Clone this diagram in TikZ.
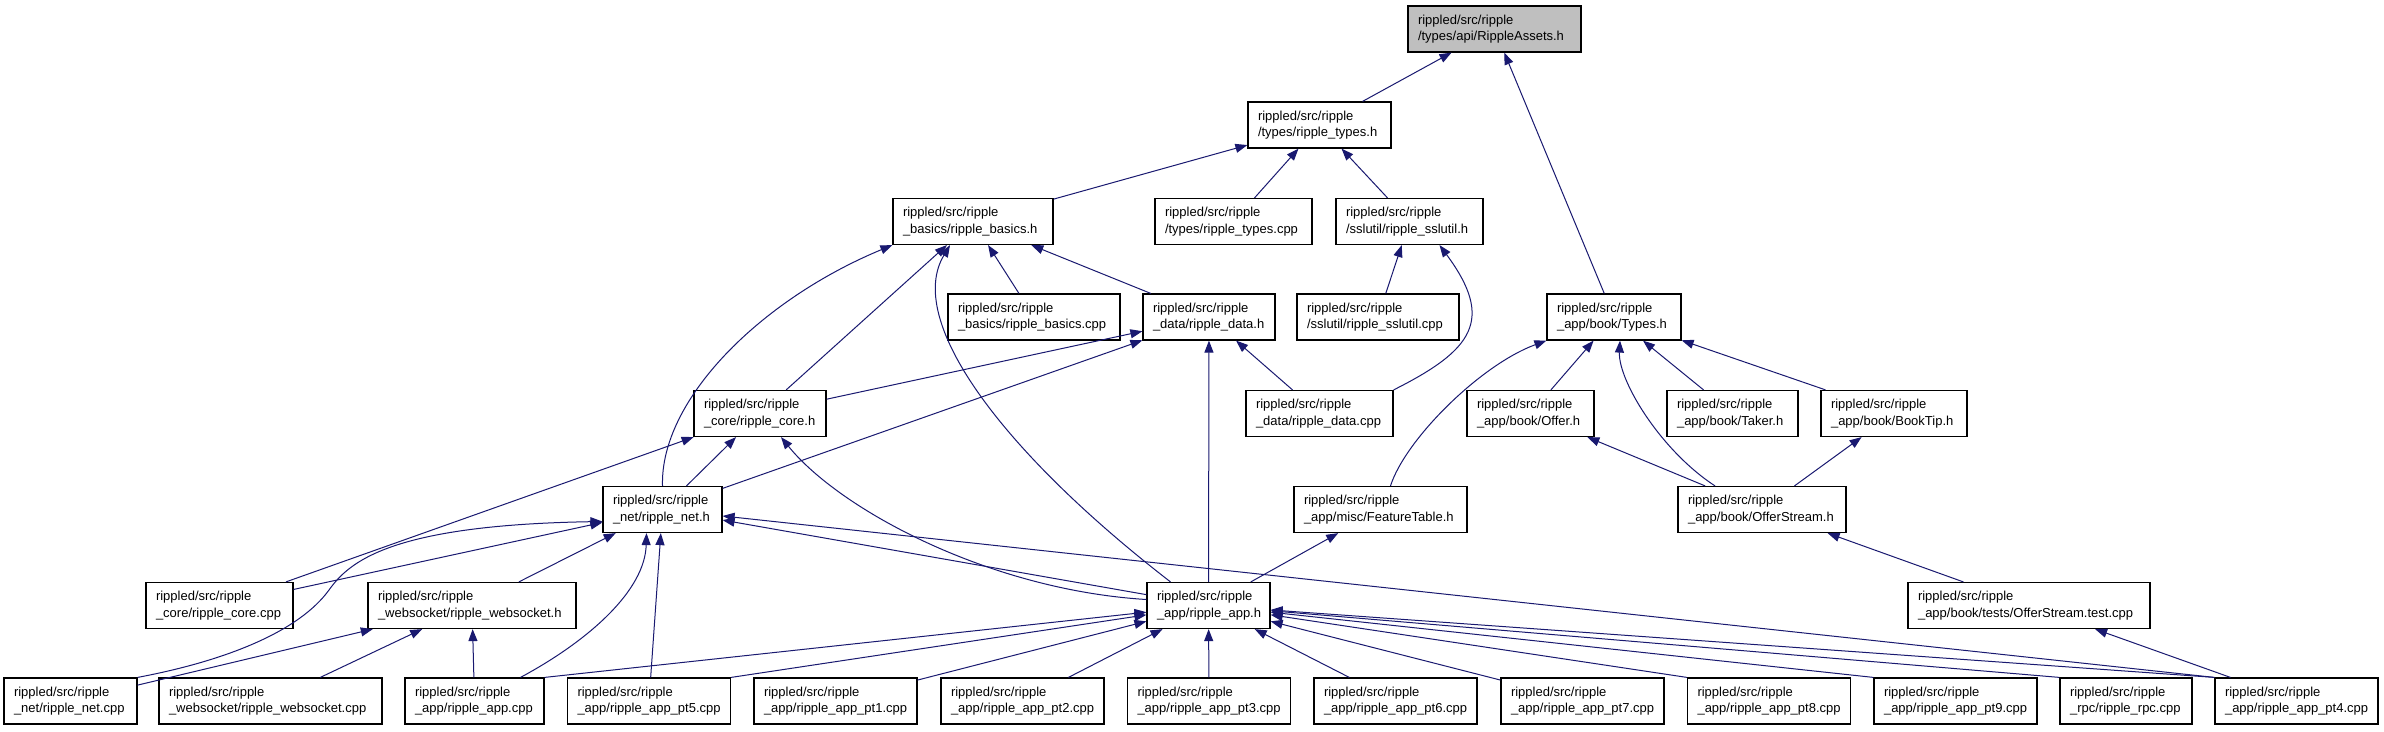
\documentclass[tikz,border=0pt]{standalone}
\usepackage{fontspec}
\setmainfont{Liberation Sans}
\usepackage{tikz}
\usetikzlibrary{arrows.meta}
\definecolor{DoxEdgeColor}{RGB}{25,25,112}
\definecolor{DoxRootColor}{RGB}{191,191,191}

\begin{document}
\begin{tikzpicture}[x=1pt,y=-1pt,
  incfile/.style={draw=black,line width=1.2pt,fill=white,align=left,inner xsep=10pt,inner ysep=0pt,minimum height=46pt,text width=#1,font=\fontsize{13pt}{16.7pt}\selectfont},
  incl/.style={DoxEdgeColor,line width=1pt,-{Triangle[length=12pt,width=9pt]}}]
\useasboundingbox[fill=white] (0,0) rectangle (2384,731);
% headers
\node[incfile=153pt,fill=DoxRootColor] (assets) at (1494.5,29) {rippled/src/ripple\\/types/api/RippleAssets.h};
\node[incfile=123pt] (typesh) at (1319.5,125) {rippled/src/ripple\\/types/ripple\_types.h};
\node[incfile=140pt] (basicsh) at (973,221.5) {rippled/src/ripple\\\_basics/ripple\_basics.h};
\node[incfile=137pt] (typescpp) at (1233.5,221.5) {rippled/src/ripple\\/types/ripple\_types.cpp};
\node[incfile=127pt] (sslutilh) at (1409.5,221.5) {rippled/src/ripple\\/sslutil/ripple\_sslutil.h};
\node[incfile=152pt] (basicscpp) at (1034,317) {rippled/src/ripple\\\_basics/ripple\_basics.cpp};
\node[incfile=112pt] (datah) at (1209,317) {rippled/src/ripple\\\_data/ripple\_data.h};
\node[incfile=142pt] (sslutilcpp) at (1378,317) {rippled/src/ripple\\/sslutil/ripple\_sslutil.cpp};
\node[incfile=114pt] (typesbook) at (1614,317) {rippled/src/ripple\\\_app/book/Types.h};
\node[incfile=112pt] (coreh) at (760,413.5) {rippled/src/ripple\\\_core/ripple\_core.h};
\node[incfile=127pt] (datacpp) at (1319.5,413.5) {rippled/src/ripple\\\_data/ripple\_data.cpp};
\node[incfile=107pt] (offerh) at (1530.5,413.5) {rippled/src/ripple\\\_app/book/Offer.h};
\node[incfile=111pt] (takerh) at (1732.5,413.5) {rippled/src/ripple\\\_app/book/Taker.h};
\node[incfile=126pt] (booktiph) at (1894,413.5) {rippled/src/ripple\\\_app/book/BookTip.h};
\node[incfile=99pt] (neth) at (662.5,509.5) {rippled/src/ripple\\\_net/ripple\_net.h};
\node[incfile=153pt] (featureh) at (1380.5,509.5) {rippled/src/ripple\\\_app/misc/FeatureTable.h};
\node[incfile=148pt] (offerstreamh) at (1762,509.5) {rippled/src/ripple\\\_app/book/OfferStream.h};
\node[incfile=127pt] (corecpp) at (219.5,605.5) {rippled/src/ripple\\\_core/ripple\_core.cpp};
\node[incfile=188pt] (websocketh) at (472,605.5) {rippled/src/ripple\\\_websocket/ripple\_websocket.h};
\node[incfile=103pt] (apph) at (1208.5,605.5) {rippled/src/ripple\\\_app/ripple\_app.h};
\node[incfile=222pt] (osttest) at (2029,605.5) {rippled/src/ripple\\\_app/book/tests/OfferStream.test.cpp};
% sources
\node[incfile=113pt] (netcpp) at (70.5,701) {rippled/src/ripple\\\_net/ripple\_net.cpp};
\node[incfile=203pt] (websocketcpp) at (270.5,701) {rippled/src/ripple\\\_websocket/ripple\_websocket.cpp};
\node[incfile=119pt] (appcpp) at (474.5,701) {rippled/src/ripple\\\_app/ripple\_app.cpp};
\foreach \n/\x in {5/649,1/835.5,2/1022.5,3/1209,6/1395.5,7/1582.5,8/1769,9/1955.5,4/2296.5} {
  \node[incfile=143pt] (pt\n) at (\x,701) {rippled/src/ripple\\\_app/ripple\_app\_pt\n.cpp};
}
\node[incfile=112pt] (rpc) at (2126,701) {rippled/src/ripple\\\_rpc/ripple\_rpc.cpp};
% straight includes
\draw[incl] (typesh) -- (assets);
\draw[incl] (typesbook) -- (assets);
\draw[incl] (basicsh) -- (typesh);
\draw[incl] (typescpp) -- (typesh);
\draw[incl] (sslutilh) -- (typesh);
\draw[incl] (basicscpp) -- (basicsh);
\draw[incl] (datah) -- (basicsh);
\draw[incl] (coreh) -- (basicsh);
\draw[incl] (sslutilcpp) -- (sslutilh);
\draw[incl] (datacpp) -- (datah);
\draw[incl] (apph) -- (datah);
\draw[incl] (coreh) -- (datah);
\draw[incl] (neth) -- (datah);
\draw[incl] (offerh) -- (typesbook);
\draw[incl] (takerh) -- (typesbook);
\draw[incl] (booktiph) -- (typesbook);
\draw[incl] (offerstreamh) -- (offerh);
\draw[incl] (offerstreamh) -- (booktiph);
\draw[incl] (osttest) -- (offerstreamh);
\draw[incl] (pt4) -- (osttest);
\draw[incl] (neth) -- (coreh);
\draw[incl] (corecpp) -- (coreh);
\draw[incl] (corecpp) -- (neth);
\draw[incl] (websocketh) -- (neth);
\draw[incl] (pt5) -- (neth);
\draw[incl] (apph) -- (neth);
\draw[incl] (pt4.north west) -- (neth);
\draw[incl] (netcpp) -- (websocketh);
\draw[incl] (websocketcpp) -- (websocketh);
\draw[incl] (appcpp) -- (websocketh);
\draw[incl] (apph) -- (featureh);
\draw[incl] (appcpp.north east) -- (apph);
\draw[incl] (pt5.north east) -- (apph);
\foreach \n in {1,2,3,6,7} \draw[incl] (pt\n) -- (apph);
\foreach \n in {8,9,4} \draw[incl] (pt\n.north west) -- (apph);
\draw[incl] (rpc.north west) -- (apph);
% curved includes
\draw[incl] (datacpp.north east) .. controls (1473,350) and (1495,320) .. ([xshift=30pt]sslutilh.south);
\draw[incl] ([xshift=10pt]featureh.north) .. controls (1405,440) and (1480,365) .. (typesbook.south west);
\draw[incl] ([xshift=-47pt]offerstreamh.north) .. controls (1660,450) and (1618,380) .. ([xshift=6pt]typesbook.south);
\draw[incl] (neth.north) .. controls (660,400) and (760,300) .. (basicsh.south west);
\draw[incl] ([xshift=-38pt]apph.north) .. controls (1000,450) and (905,320) .. ([xshift=-23pt]basicsh.south);
\draw[incl] ([yshift=6pt]apph.west) .. controls (990,590) and (840,510) .. ([xshift=21pt]coreh.south);
\draw[incl] (netcpp.north east) .. controls (230,660) and (300,630) .. (329,590) .. controls (349,562) and (390,525) .. ([yshift=-12pt]neth.west);
\draw[incl] ([xshift=46pt]appcpp.north) .. controls (590,640) and (645,590) .. ([xshift=-16pt]neth.south);
\end{tikzpicture}
\end{document}
